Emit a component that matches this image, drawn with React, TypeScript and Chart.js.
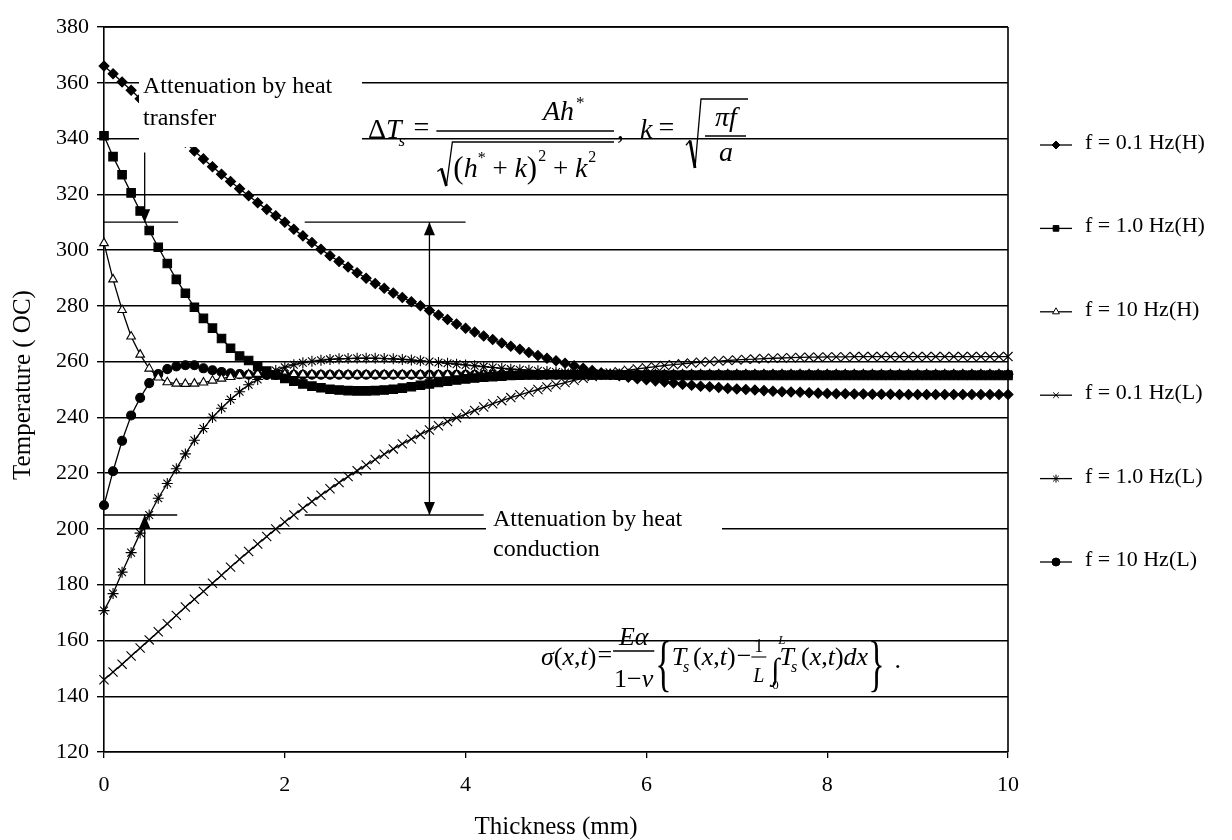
import React, { useEffect, useRef } from "react";
import { Chart, registerables } from "chart.js";
import { drawPoint } from "chart.js/helpers";

Chart.register(...registerables);

const SERIF = '"Liberation Serif", "Times New Roman", Times, serif';
const W = 1232;
const H = 840;

// Surface-layer temperature (°C) sampled every 0.1 mm of thickness, 0 … 10 mm
const STEP_MM = 0.1;

const temp01HzH = [
  366, 363.2, 360.3, 357.3, 354.3, 351.2, 348.1, 345, 341.9, 338.7,
  335.5, 332.7, 329.9, 327.2, 324.6, 322, 319.5, 317, 314.6, 312.3,
  310, 307.5, 305.1, 302.7, 300.3, 298, 295.9, 293.9, 291.9, 289.9,
  288, 286.3, 284.6, 283, 281.5, 280, 278.3, 276.7, 275.1, 273.5,
  272, 270.6, 269.2, 267.9, 266.7, 265.5, 264.4, 263.3, 262.2, 261.2,
  260.3, 259.4, 258.5, 257.6, 256.8, 256, 255.4, 254.9, 254.4, 253.9,
  253.5, 253.1, 252.7, 252.3, 251.9, 251.5, 251.2, 251, 250.7, 250.4,
  250.2, 250, 249.8, 249.6, 249.4, 249.2, 249.1, 249, 248.8, 248.7,
  248.6, 248.5, 248.5, 248.4, 248.4, 248.3, 248.3, 248.3, 248.2, 248.2,
  248.2, 248.2, 248.2, 248.2, 248.2, 248.2, 248.2, 248.2, 248.2, 248.2, 248.2,
];

const temp1HzH = [
  341, 333.5, 327, 320.5, 314, 307, 301, 295.2, 289.5, 284.5,
  279.5, 275.5, 272, 268.3, 264.8, 262, 260.4, 258.3, 256.6, 255.2,
  254, 253, 252, 251.2, 250.6, 250.1, 249.8, 249.6, 249.5, 249.5,
  249.6, 249.8, 250.1, 250.5, 251, 251.5, 252, 252.5, 253, 253.4,
  253.8, 254.1, 254.4, 254.6, 254.8, 255, 255.1, 255.2, 255.2, 255.3,
  255.3, 255.3, 255.3, 255.3, 255.2, 255.2, 255.2, 255.1, 255.1, 255.1,
  255, 255, 255, 255, 255, 255, 255, 255, 255, 255,
  255, 255, 255, 255, 255, 255, 255, 255, 255, 255,
  255, 255, 255, 255, 255, 255, 255, 255, 255, 255,
  255, 255, 255, 255, 255, 255, 255, 255, 255, 255, 255,
];

const temp10HzH = [
  302.5, 289.5, 278.5, 269, 262.5, 257.5, 254.3, 252.6, 252.1, 252,
  252.1, 252.5, 253.2, 253.9, 254.5, 255, 255.4, 255.6, 255.7, 255.7,
  255.6, 255.5, 255.4, 255.4, 255.3, 255.3, 255.3, 255.3, 255.3, 255.3,
  255.3, 255.3, 255.3, 255.3, 255.3, 255.3, 255.3, 255.3, 255.3, 255.3,
  255.3, 255.3, 255.3, 255.3, 255.3, 255.3, 255.3, 255.3, 255.3, 255.3,
  255.3, 255.3, 255.3, 255.3, 255.3, 255.3, 255.3, 255.3, 255.3, 255.3,
  255.3, 255.3, 255.3, 255.3, 255.3, 255.3, 255.3, 255.3, 255.3, 255.3,
  255.3, 255.3, 255.3, 255.3, 255.3, 255.3, 255.3, 255.3, 255.3, 255.3,
  255.3, 255.3, 255.3, 255.3, 255.3, 255.3, 255.3, 255.3, 255.3, 255.3,
  255.3, 255.3, 255.3, 255.3, 255.3, 255.3, 255.3, 255.3, 255.3, 255.3, 255.3,
];

const temp01HzL = [
  145.9, 148.7, 151.5, 154.4, 157.3, 160.2, 163.1, 166, 169, 172,
  174.8, 177.6, 180.5, 183.4, 186.3, 189.1, 191.9, 194.6, 197.3, 200,
  202.5, 205, 207.4, 209.8, 212.1, 214.4, 216.6, 218.8, 220.9, 222.9,
  224.9, 226.8, 228.7, 230.5, 232.2, 233.9, 235.5, 237, 238.5, 239.9,
  241.2, 242.5, 243.7, 244.9, 246, 247.1, 248.1, 249.1, 250, 250.9,
  251.7, 252.5, 253.3, 254, 254.7, 255.3, 255.9, 256.4, 256.9, 257.4,
  257.8, 258.2, 258.6, 258.9, 259.2, 259.5, 259.8, 260, 260.2, 260.4,
  260.6, 260.8, 260.9, 261.1, 261.2, 261.3, 261.4, 261.5, 261.6, 261.6,
  261.7, 261.7, 261.7, 261.8, 261.8, 261.8, 261.8, 261.8, 261.8, 261.8,
  261.8, 261.8, 261.8, 261.8, 261.8, 261.8, 261.8, 261.8, 261.8, 261.8, 261.8,
];

const temp1HzL = [
  170.7, 176.8, 184.5, 191.5, 198.5, 205, 211, 216.3, 221.6, 226.9,
  231.8, 236, 240, 243.3, 246.4, 249.2, 251.7, 253.6, 255.4, 256.8,
  258, 258.9, 259.6, 260.1, 260.5, 260.8, 261, 261.1, 261.2, 261.2,
  261.2, 261.1, 261, 260.8, 260.6, 260.3, 260, 259.7, 259.4, 259.1,
  258.8, 258.5, 258.2, 257.9, 257.6, 257.3, 257.1, 256.9, 256.7, 256.5,
  256.3, 256.1, 256, 255.9, 255.8, 255.7, 255.6, 255.6, 255.5, 255.5,
  255.5, 255.5, 255.5, 255.5, 255.5, 255.5, 255.5, 255.5, 255.5, 255.5,
  255.5, 255.5, 255.5, 255.5, 255.5, 255.5, 255.5, 255.5, 255.5, 255.5,
  255.5, 255.5, 255.5, 255.5, 255.5, 255.5, 255.5, 255.5, 255.5, 255.5,
  255.5, 255.5, 255.5, 255.5, 255.5, 255.5, 255.5, 255.5, 255.5, 255.5, 255.5,
];

const temp10HzL = [
  208.5, 220.7, 231.6, 240.7, 247, 252.3, 255.5, 257.3, 258.3, 258.7,
  258.7, 257.6, 256.9, 256.3, 255.8, 255.5, 255.3, 255.2, 255.2, 255.2,
  255.3, 255.3, 255.3, 255.3, 255.3, 255.3, 255.3, 255.3, 255.3, 255.3,
  255.3, 255.3, 255.3, 255.3, 255.3, 255.3, 255.3, 255.3, 255.3, 255.3,
  255.3, 255.3, 255.3, 255.3, 255.3, 255.3, 255.3, 255.3, 255.3, 255.3,
  255.3, 255.3, 255.3, 255.3, 255.3, 255.3, 255.3, 255.3, 255.3, 255.3,
  255.3, 255.3, 255.3, 255.3, 255.3, 255.3, 255.3, 255.3, 255.3, 255.3,
  255.3, 255.3, 255.3, 255.3, 255.3, 255.3, 255.3, 255.3, 255.3, 255.3,
  255.3, 255.3, 255.3, 255.3, 255.3, 255.3, 255.3, 255.3, 255.3, 255.3,
  255.3, 255.3, 255.3, 255.3, 255.3, 255.3, 255.3, 255.3, 255.3, 255.3, 255.3,
];

const seriesNames = [
  "f = 0.1 Hz(H)",
  "f = 1.0 Hz(H)",
  "f = 10 Hz(H)",
  "f = 0.1 Hz(L)",
  "f = 1.0 Hz(L)",
  "f = 10 Hz(L)",
];
const seriesData = [temp01HzH, temp1HzH, temp10HzH, temp01HzL, temp1HzL, temp10HzL];

const xTickValues = [0, 2, 4, 6, 8, 10];
const yTickValues = [120, 140, 160, 180, 200, 220, 240, 260, 280, 300, 320, 340, 360, 380];

// Attenuation markers (temperature levels in °C, thickness in mm)
const transferLevel = 310;
const conductionLevel = 205;
const transferArrowTop = 335;
const conductionArrowBottom = 180;
const surfaceArrowX = 0.45;
const bulkArrowX = 3.6;

const thickness = seriesData[0].map((_, i) => Math.round(i * STEP_MM * 10) / 10);

// marker look per series
const markerStyles = ["rectRot", "rect", "triangle", "crossRot", "star", "circle"];
const markerRadius = [5, 6, 5, 6.5, 5.5, 4.5];
const markerFill = ["#000", "#000", "#fff", "#000", "#000", "#000"];

function setFont(ctx: CanvasRenderingContext2D, size: number, italic = false) {
  ctx.font = `${italic ? "italic " : ""}${size}px ${SERIF}`;
}

function put(
  ctx: CanvasRenderingContext2D,
  s: string,
  x: number,
  y: number,
  size: number,
  italic = false,
  align: CanvasTextAlign = "left"
) {
  setFont(ctx, size, italic);
  ctx.textAlign = align;
  ctx.textBaseline = "alphabetic";
  ctx.fillText(s, x, y);
  return ctx.measureText(s).width;
}

function measure(ctx: CanvasRenderingContext2D, s: string, size: number, italic = false) {
  setFont(ctx, size, italic);
  return ctx.measureText(s).width;
}

function hline(ctx: CanvasRenderingContext2D, x0: number, x1: number, y: number, lw = 1.3) {
  ctx.beginPath();
  ctx.lineWidth = lw;
  ctx.moveTo(x0, y);
  ctx.lineTo(x1, y);
  ctx.stroke();
}

function radical(ctx: CanvasRenderingContext2D, x0: number, yTop: number, yBottom: number, xEnd: number) {
  const h = yBottom - yTop;
  ctx.beginPath();
  ctx.lineWidth = 1.3;
  ctx.moveTo(x0, yBottom - h * 0.33);
  ctx.lineTo(x0 + 4, yBottom - h * 0.4);
  ctx.stroke();
  ctx.beginPath();
  ctx.lineWidth = 2.8;
  ctx.moveTo(x0 + 4, yBottom - h * 0.4);
  ctx.lineTo(x0 + 9, yBottom);
  ctx.stroke();
  ctx.beginPath();
  ctx.lineWidth = 1.3;
  ctx.moveTo(x0 + 9, yBottom);
  ctx.lineTo(x0 + 15, yTop);
  ctx.lineTo(xEnd, yTop);
  ctx.stroke();
}

function brace(ctx: CanvasRenderingContext2D, s: string, x: number, y: number) {
  ctx.save();
  setFont(ctx, 62);
  ctx.textAlign = "left";
  ctx.textBaseline = "alphabetic";
  ctx.translate(x, y);
  ctx.scale(0.55, 1);
  ctx.fillText(s, 0, 0);
  const w = ctx.measureText(s).width * 0.55;
  ctx.restore();
  return w;
}

function arrowHead(ctx: CanvasRenderingContext2D, x: number, yTip: number, dir: number) {
  ctx.beginPath();
  ctx.moveTo(x, yTip);
  ctx.lineTo(x - 5.5, yTip - dir * 13);
  ctx.lineTo(x + 5.5, yTip - dir * 13);
  ctx.closePath();
  ctx.fill();
}

function vArrow(ctx: CanvasRenderingContext2D, x: number, yFrom: number, yTo: number, both = false) {
  ctx.beginPath();
  ctx.lineWidth = 1.3;
  ctx.moveTo(x, yFrom);
  ctx.lineTo(x, yTo);
  ctx.stroke();
  const dir = yTo > yFrom ? 1 : -1;
  arrowHead(ctx, x, yTo, dir);
  if (both) arrowHead(ctx, x, yFrom, -dir);
}

function drawSumFormula(ctx: CanvasRenderingContext2D) {
  // ΔT_s = A h* / sqrt((h* + k)^2 + k^2),  k = sqrt(πf / a)
  const b = 138;
  let cx = 368;
  cx += put(ctx, "Δ", cx, b, 28);
  cx += put(ctx, "T", cx, b, 28, true);
  put(ctx, "s", cx - 3, b + 8, 17, true);
  cx += 12;
  cx += put(ctx, "=", cx, b - 2, 28);
  cx += 7;
  const fl = cx;
  const fr = 614;
  hline(ctx, fl, fr, 131, 1.5);
  const nw = measure(ctx, "Ah", 28, true);
  put(ctx, "Ah", 543, 120, 28, true);
  put(ctx, "*", 543 + nw + 2, 108, 17);
  radical(ctx, fl + 1, 142, 186, fr);
  const db = 177;
  let dx = fl + 17;
  dx += put(ctx, "(", dx, db + 1, 31);
  dx += put(ctx, "h", dx, db, 28, true);
  dx += put(ctx, "*", dx, db - 14, 16);
  dx += put(ctx, " + ", dx, db, 27);
  dx += put(ctx, "k", dx, db, 28, true);
  dx += put(ctx, ")", dx, db + 1, 31);
  dx += put(ctx, "2", dx + 1, db - 16, 16) + 1;
  dx += put(ctx, " + ", dx, db, 27);
  dx += put(ctx, "k", dx, db, 28, true);
  put(ctx, "2", dx + 1, db - 15, 16);

  put(ctx, ",", fr + 3, b + 1, 28);
  let kx = 640;
  kx += put(ctx, "k", kx, b, 28, true);
  kx += 6;
  kx += put(ctx, "=", kx, b - 2, 28);
  const r0 = 686;
  radical(ctx, r0, 99, 168, 748);
  const mid = (r0 + 18 + 748) / 2;
  put(ctx, "πf", mid, 126, 28, true, "center");
  hline(ctx, r0 + 19, 746, 136, 1.5);
  put(ctx, "a", mid, 161, 28, true, "center");
}

function drawStressFormula(ctx: CanvasRenderingContext2D) {
  // σ(x,t) = Eα/(1−ν) { T_s(x,t) − (1/L) ∫_0^L T_s(x,t) dx } .
  const b = 665;
  const args = (x0: number) => {
    let x = x0;
    x += put(ctx, "(", x, b, 26);
    x += put(ctx, "x", x, b, 26, true);
    x += put(ctx, ",", x, b, 26);
    x += put(ctx, "t", x, b, 26, true);
    x += put(ctx, ")", x, b, 26);
    return x - x0;
  };
  const ts = (x0: number) => {
    let x = x0;
    x += put(ctx, "T", x, b, 26, true);
    put(ctx, "s", x - 3, b + 7, 16, true);
    x += 7;
    x += args(x);
    return x - x0;
  };
  let ex = 541;
  ex += put(ctx, "σ", ex, b, 26, true);
  ex += args(ex);
  ex += 1;
  ex += put(ctx, "=", ex, b - 2, 26);
  ex += 1;
  const nW = measure(ctx, "Eα", 26, true);
  const dW = measure(ctx, "1−", 26) + measure(ctx, "ν", 26, true);
  const fw = Math.max(nW, dW) + 2;
  put(ctx, "Eα", ex + fw / 2, 645, 26, true, "center");
  hline(ctx, ex, ex + fw, 651, 1.4);
  let dx = ex + (fw - dW) / 2;
  dx += put(ctx, "1−", dx, 687, 26);
  put(ctx, "ν", dx, 687, 26, true);
  ex += fw + 1;
  ex += brace(ctx, "{", ex, 684);
  ex += ts(ex);
  ex += 1;
  ex += put(ctx, "−", ex, b - 1, 26);
  const sfw = 15;
  put(ctx, "1", ex + sfw / 2, 652, 18, false, "center");
  hline(ctx, ex, ex + sfw, 657, 1.1);
  put(ctx, "L", ex + sfw / 2, 682, 20, true, "center");
  ex += sfw + 5;
  const iw = put(ctx, "∫", ex, 679, 30);
  put(ctx, "L", ex + 7, 644, 13, true);
  put(ctx, "0", ex + 1, 689, 13);
  ex += iw;
  ex += ts(ex);
  ex -= 8;
  ex += put(ctx, "dx", ex + 8, b, 26, true) + 8;
  ex += brace(ctx, "}", ex, 684);
  put(ctx, ".", ex + 10, b + 3, 26);
}

const overlayPlugin = {
  id: "overlay",
  beforeDraw(chart: any) {
    const { ctx } = chart;
    ctx.save();
    ctx.fillStyle = "#fff";
    ctx.fillRect(0, 0, chart.width, chart.height);
    ctx.restore();
  },
  afterDatasetsDraw(chart: any) {
    const { ctx, chartArea: ca, scales } = chart;
    const xs = scales.x;
    const ys = scales.y;
    ctx.save();
    ctx.strokeStyle = "#000";
    ctx.fillStyle = "#000";

    // right frame of the plot
    hline(ctx, ca.left, ca.right, ca.top, 1.4);
    ctx.beginPath();
    ctx.lineWidth = 1.6;
    ctx.moveTo(ca.right, ca.top);
    ctx.lineTo(ca.right, ca.bottom);
    ctx.stroke();

    // level lines for the two attenuations
    const yT = ys.getPixelForValue(transferLevel);
    const yC = ys.getPixelForValue(conductionLevel);
    hline(ctx, xs.getPixelForValue(0), xs.getPixelForValue(0.82), yT, 1.3);
    hline(ctx, xs.getPixelForValue(2.22), xs.getPixelForValue(4.0), yT, 1.3);
    hline(ctx, xs.getPixelForValue(0), xs.getPixelForValue(0.81), yC, 1.3);
    hline(ctx, xs.getPixelForValue(2.22), xs.getPixelForValue(4.2), yC, 1.3);

    // arrows
    const xa = xs.getPixelForValue(surfaceArrowX);
    vArrow(ctx, xa, ys.getPixelForValue(transferArrowTop), yT);
    vArrow(ctx, xa, ys.getPixelForValue(conductionArrowBottom), yC);
    const xb = xs.getPixelForValue(bulkArrowX);
    vArrow(ctx, xb, yT, yC, true);

    // label boxes
    ctx.fillStyle = "#fff";
    ctx.fillRect(139, 66, 223, 81);
    ctx.fillRect(486, 500, 236, 62);
    ctx.fillStyle = "#000";
    put(ctx, "Attenuation by heat", 143, 93, 24);
    put(ctx, "transfer", 143, 125, 24);
    put(ctx, "Attenuation by heat", 493, 526, 24);
    put(ctx, "conduction", 493, 556, 24);

    drawSumFormula(ctx);
    drawStressFormula(ctx);

    // axis titles
    put(ctx, "Thickness (mm)", (ca.left + ca.right) / 2, 834, 25, false, "center");
    ctx.save();
    ctx.translate(30, 385);
    ctx.rotate(-Math.PI / 2);
    put(ctx, "Temperature ( OC)", 0, 0, 25, false, "center");
    ctx.restore();

    // legend
    seriesNames.forEach((name, i) => {
      const ly = 145 + i * 83.4;
      ctx.strokeStyle = "#000";
      hline(ctx, 1040, 1072, ly, 1.3);
      ctx.fillStyle = markerFill[i];
      ctx.lineWidth = 1;
      drawPoint(ctx, { pointStyle: markerStyles[i], radius: 4, rotation: 0, borderWidth: 1 }, 1056, ly);
      ctx.fillStyle = "#000";
      put(ctx, name, 1085, ly + 4, 22);
    });
    ctx.restore();
  },
};

export default function App() {
  const canvasRef = useRef<HTMLCanvasElement | null>(null);

  useEffect(() => {
    const canvas = canvasRef.current;
    if (!canvas) return;
    const chart = new Chart(canvas, {
      type: "line",
      data: {
        labels: thickness,
        datasets: seriesNames.map((name, i) => ({
          label: name,
          data: seriesData[i],
          borderColor: "#000",
          borderWidth: 1.3,
          pointStyle: markerStyles[i] as any,
          pointRadius: markerRadius[i],
          pointBackgroundColor: markerFill[i],
          pointBorderColor: "#000",
          pointBorderWidth: 1.1,
          tension: 0,
          fill: false,
          clip: false as any,
        })),
      },
      options: {
        animation: false,
        responsive: false,
        events: [],
        layout: { padding: { left: 0, top: 27, right: 224, bottom: 0 } },
        plugins: {
          legend: { display: false },
          tooltip: { enabled: false },
          title: { display: false },
        },
        scales: {
          x: {
            type: "linear",
            min: 0,
            max: 10,
            afterFit: (s: any) => {
              s.height = 88;
            },
            afterBuildTicks: (s: any) => {
              s.ticks = xTickValues.map((v) => ({ value: v }));
            },
            ticks: {
              color: "#000",
              font: { family: SERIF, size: 22 },
              padding: 14,
              maxRotation: 0,
              autoSkip: false,
            },
            grid: {
              drawOnChartArea: false,
              drawTicks: true,
              tickLength: 6,
              color: "#000",
              lineWidth: 1.3,
            },
            border: { display: true, color: "#000", width: 1.5 },
          },
          y: {
            type: "linear",
            min: 120,
            max: 380,
            afterFit: (s: any) => {
              s.width = 104;
            },
            afterBuildTicks: (s: any) => {
              s.ticks = yTickValues.map((v) => ({ value: v }));
            },
            ticks: {
              color: "#000",
              font: { family: SERIF, size: 22 },
              padding: 8,
              autoSkip: false,
            },
            grid: { color: "#000", lineWidth: 1.4, tickLength: 7, drawTicks: true },
            border: { display: true, color: "#000", width: 1.6 },
          },
        },
      },
      plugins: [overlayPlugin],
    });
    return () => chart.destroy();
  }, []);

  return (
    <div style={{ position: "absolute", left: 0, top: 0, width: W, height: H, background: "#fff" }}>
      <canvas ref={canvasRef} width={W} height={H} style={{ display: "block" }} />
    </div>
  );
}
